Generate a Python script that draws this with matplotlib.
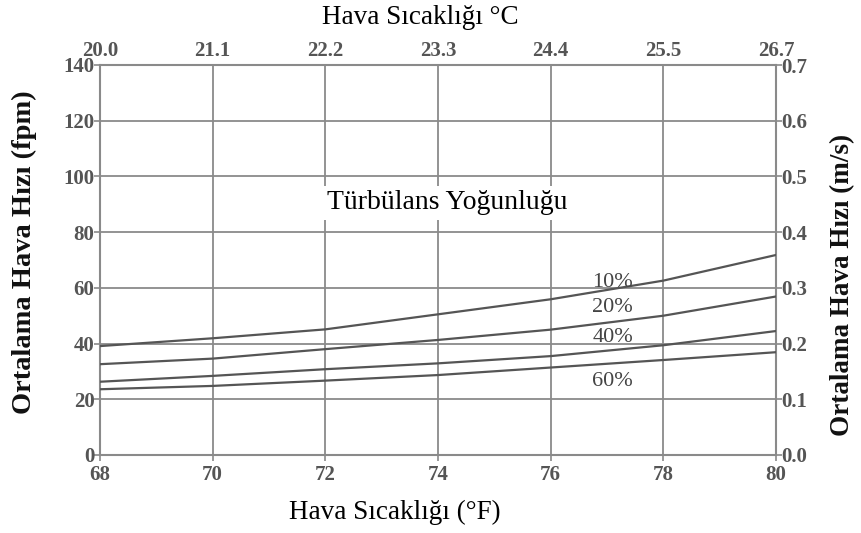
import matplotlib
matplotlib.use("Agg")
import matplotlib.pyplot as plt

# Data
temp_f = [68, 70, 72, 74, 76, 78, 80]
temp_c_labels = ["20.0", "21.1", "22.2", "23.3", "24.4", "25.5", "26.7"]
v10 = [39.1, 41.9, 45.1, 50.5, 55.9, 62.6, 71.8]
v20 = [32.6, 34.6, 38.0, 41.3, 45.0, 50.0, 56.9]
v40 = [26.3, 28.4, 30.8, 32.9, 35.5, 39.4, 44.5]
v60 = [23.6, 24.8, 26.7, 28.7, 31.4, 34.1, 36.9]
series_labels = ["10%", "20%", "40%", "60%"]
label_pos_y = [62.1, 52.9, 42.1, 26.4]
yticks_fpm = [0, 20, 40, 60, 80, 100, 120, 140]
yticks_ms = [0.0, 0.1, 0.2, 0.3, 0.4, 0.5, 0.6, 0.7]

plt.rcParams['font.family'] = ['Liberation Serif', 'DejaVu Serif']

W, H = 861, 533
fig = plt.figure(figsize=(W / 100, H / 100), dpi=100)
ax = fig.add_axes([100 / W, 1 - 455 / H, 676 / W, 390 / H])

grid_c = '#8a8a8a'
line_c = '#555555'
tick_c = '#555555'

ax.set_xlim(68, 80)
ax.set_ylim(0, 140)
ax.set_xticks(temp_f)
ax.set_yticks(yticks_fpm)
ax.grid(True, color=grid_c, linewidth=1.3)
ax.set_axisbelow(True)

for vals in (v10, v20, v40, v60):
    ax.plot(temp_f, vals, color=line_c, linewidth=1.6, zorder=3)

for lab, yy in zip(series_labels, label_pos_y):
    ax.text(77.1, yy, lab, ha='center', va='center', fontsize=16,
            color='#444444', zorder=4)

ax.text(74.17, 90.5, "Türbülans Yoğunluğu", ha='center', va='center',
        fontsize=20, color='black', zorder=4,
        bbox=dict(facecolor='white', edgecolor='none', pad=3))

for sp in ax.spines.values():
    sp.set_color(grid_c)
    sp.set_linewidth(1.5)

ax.tick_params(axis='both', colors=grid_c, labelcolor=tick_c, labelsize=15,
               length=4, width=1.2)
ax.tick_params(axis='x', pad=3)
ax.tick_params(axis='y', pad=0)
for t in ax.get_xticklabels() + ax.get_yticklabels():
    t.set_fontweight('bold')

axr = ax.twinx()
axr.set_ylim(0, 0.7)
axr.set_yticks(yticks_ms)
axr.set_yticklabels([f"{v:.1f}" for v in yticks_ms])
axr.tick_params(axis='y', colors=grid_c, labelcolor=tick_c, labelsize=15,
                length=4, width=1.2, pad=0)
for t in axr.get_yticklabels():
    t.set_fontweight('bold')
for sp in axr.spines.values():
    sp.set_visible(False)

axt = ax.twiny()
axt.set_xlim(68, 80)
axt.set_xticks(temp_f)
axt.set_xticklabels(temp_c_labels)
axt.tick_params(axis='x', colors=grid_c, labelcolor=tick_c, labelsize=15,
                length=0, pad=3)
for t in axt.get_xticklabels():
    t.set_fontweight('bold')
for sp in axt.spines.values():
    sp.set_visible(False)

# Axis titles
fig.text(420 / W, 1 - 18 / H, "Hava Sıcaklığı °C", ha='center', va='center',
         fontsize=19.5, color='black')
fig.text(395 / W, 1 - 512 / H, "Hava Sıcaklığı (°F)", ha='center',
         va='center', fontsize=19.5, color='black')
fig.text(24 / W, 1 - 252 / H, "Ortalama Hava Hızı (fpm)", ha='center',
         va='center', rotation=90, fontsize=20.5, fontweight='bold',
         color='#111111')
fig.text(843 / W, 1 - 285 / H, "Ortalama Hava Hızı (m/s)", ha='center',
         va='center', rotation=90, fontsize=19.5, fontweight='bold',
         color='#111111')

fig.savefig("out.png", dpi=100)
